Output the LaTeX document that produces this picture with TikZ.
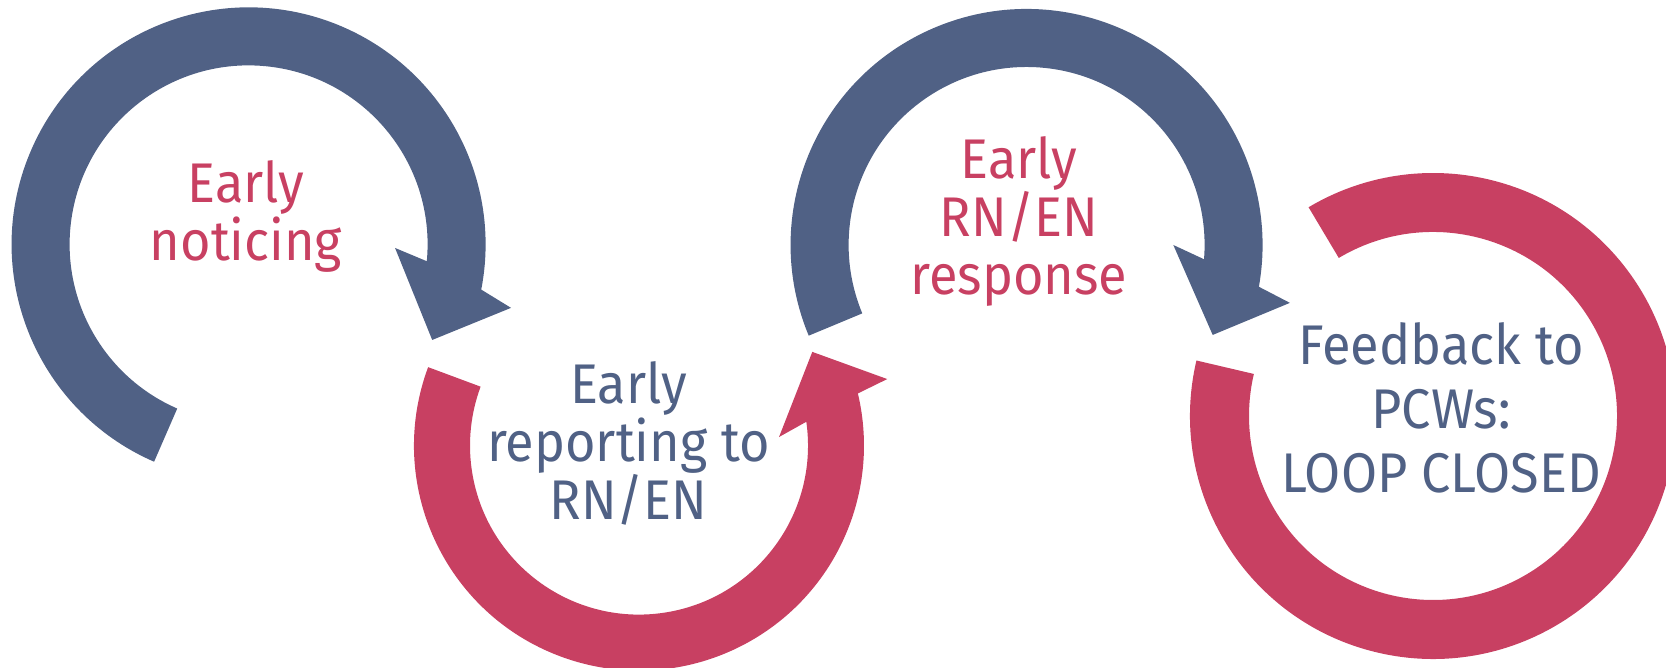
\documentclass[tikz,border=0pt]{standalone}
\usepackage{fontspec}
\setmainfont{Fira Sans}[FakeStretch=0.935]

\definecolor{loopblue}{HTML}{506185}
\definecolor{loopred}{HTML}{C84062}

\tikzset{
  lbl/.style={align=center, inner sep=0pt, font=\fontsize{15.9pt}{16.5pt}\selectfont},
}

\begin{document}
\begin{tikzpicture}[x=0.01cm, y=0.01cm]
    \clip (0,0) rectangle (1666,668);
    % loop 1: noticing
    \begin{scope}[shift={(248.6,423.6)}]
        \fill[loopblue] (246.5:237) arc[start angle=246.5, end angle=-11, radius=237]
            -- (-13.6:270) -- (-27.5:207) -- (-1.4:146.5) -- (-5.4:179)
            arc[start angle=-5.4, end angle=246.5, radius=179] -- cycle;
    \end{scope}
    % loop 2: reporting
    \begin{scope}[shift={(639,222.4)}]
        \fill[loopred] (159.6:225) arc[start angle=159.6, end angle=373.4, radius=225]
            -- (375:257) -- (388.4:197) -- (363.5:140.3) -- (368.1:169)
            arc[start angle=368.1, end angle=159.6, radius=169] -- cycle;
    \end{scope}
    % loop 3: response
    \begin{scope}[shift={(1026.6,423)}]
        \fill[loopblue] (202.6:236) arc[start angle=202.6, end angle=-10.2, radius=236]
            -- (-12.4:269.6) -- (-25.8:206.7) -- (0:146.7) -- (-4.6:178)
            arc[start angle=-4.6, end angle=202.6, radius=178] -- cycle;
    \end{scope}
    % loop 4: feedback
    \begin{scope}[shift={(1433,252)}]
        \fill[loopred] (166.8:243) arc[start angle=166.8, end angle=480.8, radius=243]
            -- (480.8:184) arc[start angle=480.8, end angle=166.8, radius=184] -- cycle;
    \end{scope}
    % labels
    \node[lbl, text=loopred] (noticing) at (246,451) {Early\\noticing};
    \node[lbl, text=loopblue] (reporting) at (628.5,225) {Early\\reporting to\\RN/EN};
    \node[lbl, text=loopred] (response) at (1019,446.8) {Early\\RN/EN\\response};
    \node[lbl, text=loopblue, font=\fontsize{15.9pt}{18.2pt}\selectfont] (feedback) at (1441,260.3) {Feedback to\\PCWs:\\LOOP CLOSED};
\end{tikzpicture}
\end{document}
